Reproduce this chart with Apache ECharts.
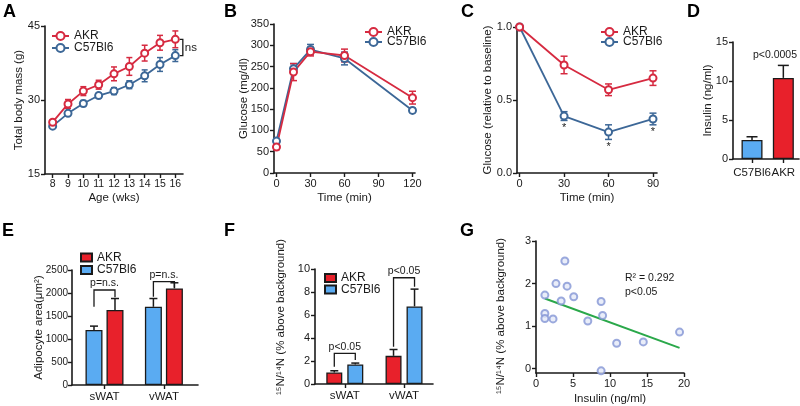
<!DOCTYPE html>
<html><head><meta charset="utf-8">
<script src="https://cdn.jsdelivr.net/npm/echarts@6/dist/echarts.min.js"></script>
<style>html,body{margin:0;padding:0;background:#fff}#c{width:800px;height:406px}</style>
</head><body><div id="c"></div>
<script>
// ---------- DATA ----------
// Panel A: body mass over age
const ageWeeks = ['8','9','10','11','12','13','14','15','16'];
const massAKR = [25.5, 29.2, 31.8, 33.1, 35.3, 36.8, 39.5, 41.6, 42.3];
const massAKRErr = [0.5, 0.9, 0.9, 0.9, 1.4, 1.8, 1.6, 1.5, 1.7];
const massC57 = [24.7, 27.3, 29.3, 30.9, 31.8, 33.1, 34.9, 37.2, 39.0];
const massC57Err = [0.4, 0.4, 0.6, 0.5, 0.7, 0.8, 1.2, 1.4, 1.2];
// Panel B: glucose tolerance
const gttTime = [0, 15, 30, 60, 120];
const gttAKR = [61, 237, 285, 276, 177];
const gttAKRErr = [6, 20, 10, 15, 15];
const gttC57 = [75, 245, 290, 269, 147];
const gttC57Err = [5, 12, 12, 15, 5];
const gttTicks = [0, 30, 60, 90, 120];
// Panel C: insulin tolerance
const ittTime = [0, 30, 60, 90];
const ittAKR = [1.0, 0.74, 0.57, 0.65];
const ittAKRErr = [0, 0.06, 0.04, 0.05];
const ittC57 = [1.0, 0.39, 0.28, 0.37];
const ittC57Err = [0, 0.03, 0.05, 0.04];
const ittSignificant = [false, true, true, true];
const ittTicks = [0, 30, 60, 90];
// Panel D: insulin
const insulinCats = ['C57Bl6', 'AKR'];
const insulinVals = [2.45, 10.4];
const insulinErr = [0.4, 1.6];
const insulinP = 'p<0.0005';
// Panel E: adipocyte area
const depots = ['sWAT', 'vWAT'];
const areaC57 = [1195, 1700];
const areaC57Err = [85, 180];
const areaAKR = [1630, 2100];
const areaAKRErr = [250, 122];
const areaBracketLevel = [2065, 2246];
const areaBracketLeftEnd = [1700, 1920];
const areaBracketRightEnd = [1910, 2120];
const areaBracketText = ['p=n.s.', 'p=n.s.'];
// Panel F: 15N/14N ratio
const ratioAKR = [1.0, 2.45];
const ratioAKRErr = [0.15, 0.55];
const ratioC57 = [1.7, 6.75];
const ratioC57Err = [0.12, 1.5];
const ratioBracketLevel = [2.67, 9.24];
const ratioBracketLeftEnd = [1.5, 3.24];
const ratioBracketRightEnd = [2.09, 8.46];
const ratioBracketText = ['p<0.05', 'p<0.05'];
// Panel G: correlation
const gInsulin = [1.2, 1.2, 1.2, 2.3, 2.7, 3.4, 3.9, 4.2, 5.1, 7.0, 8.8, 9.0, 8.8, 10.9, 14.5, 19.4];
const gRatio = [1.73, 1.30, 1.18, 1.17, 2.00, 1.59, 2.53, 1.94, 1.69, 1.12, 1.58, 1.25, -0.05, 0.60, 0.63, 0.86];
const trendInsulin = [1.2, 19.4];
const trendRatio = [1.65, 0.49];
const gStats = ['R\u00B2 = 0.292', 'p<0.05'];

// ---------- STYLE ----------
const FONT = "'Liberation Sans', Arial, Helvetica, 'DejaVu Sans', sans-serif";
const INK = '#1a1a1a';
const RED = '#d62a40';
const BLUE = '#3c6797';
const BAR_RED = '#e8212b';
const BAR_BLUE = '#5aabf2';
const TICK_FS = 11, TITLE_FS = 11.5;

function ax(o) {
  const base = {
    axisLine: {show: true, onZero: false, lineStyle: {color: INK, width: 1.6}},
    axisTick: {show: true, length: 4, lineStyle: {color: INK, width: 1.4}},
    axisLabel: {color: INK, fontSize: TICK_FS, margin: 5, fontFamily: FONT, formatter: v => String(v)},
    splitLine: {show: false},
    nameLocation: 'middle',
    nameMoveOverlap: false,
    nameTextStyle: {color: INK, fontSize: TITLE_FS, fontFamily: FONT}
  };
  for (const k in o) {
    if (o[k] && typeof o[k] === 'object' && !Array.isArray(o[k]) && base[k] && typeof base[k] === 'object')
      base[k] = Object.assign({}, base[k], o[k]);
    else base[k] = o[k];
  }
  return base;
}

function zip3(xs, ys, es) { return ys.map((y, i) => [xs[i], y, es[i]]); }

function errSeries(gi, points, color, capHalf, upOnly, dx) {
  return {
    type: 'custom', xAxisIndex: gi, yAxisIndex: gi, silent: true, z: 2,
    data: points,
    renderItem: function (params, api) {
      const x = api.value(0), y = api.value(1), e = api.value(2);
      if (!e) return null;
      const top = api.coord([x, y + e]);
      const bot = api.coord([x, upOnly ? y : y - e]);
      const cx = top[0] + (dx || 0);
      const st = {stroke: color, lineWidth: 1.5};
      const ch = [
        {type: 'line', shape: {x1: cx, y1: top[1], x2: cx, y2: bot[1]}, style: st},
        {type: 'line', shape: {x1: cx - capHalf, y1: top[1], x2: cx + capHalf, y2: top[1]}, style: st}
      ];
      if (!upOnly) ch.push({type: 'line', shape: {x1: cx - capHalf, y1: bot[1], x2: cx + capHalf, y2: bot[1]}, style: st});
      return {type: 'group', children: ch};
    }
  };
}

function lineSeries(gi, name, data, color) {
  return {
    type: 'line', name: name, xAxisIndex: gi, yAxisIndex: gi, data: data,
    symbol: 'emptyCircle', symbolSize: 7, z: 3,
    lineStyle: {color: color, width: 1.8},
    itemStyle: {color: color, borderWidth: 1.8},
    emphasis: {disabled: true}
  };
}

function bracketSeries(gi, data, offL, offR, labels) {
  return {
    type: 'custom', xAxisIndex: gi, yAxisIndex: gi, silent: true, z: 4,
    data: data,
    renderItem: function (params, api) {
      const i = params.dataIndex;
      const cx = api.value(0);
      const pTop = api.coord([cx, api.value(1)]);
      const yL = api.coord([cx, api.value(2)])[1];
      const yR = api.coord([cx, api.value(3)])[1];
      const xL = pTop[0] + offL, xR = pTop[0] + offR;
      return {type: 'group', children: [
        {type: 'polyline', shape: {points: [[xL, yL], [xL, pTop[1]], [xR, pTop[1]], [xR, yR]]},
         style: {stroke: INK, lineWidth: 1.3, fill: null}},
        {type: 'text', x: (xL + xR) / 2, y: pTop[1] - 1,
         style: {text: labels[i], align: 'center', verticalAlign: 'bottom', font: '10.5px ' + FONT, fill: INK}}
      ]};
    }
  };
}

const legendBase = {
  orient: 'vertical', padding: 0, selectedMode: false,
  formatter: n => n.split('|')[0],
  textStyle: {fontSize: 12, fontFamily: FONT, color: INK}
};
function legend(o) { return Object.assign({}, legendBase, o); }

// grids (A..G)
const grids = [
  {left: 45, top: 26, width: 138, height: 148},
  {left: 274, top: 24, width: 141, height: 149},
  {left: 517, top: 27, width: 140, height: 146},
  {left: 733, top: 42, width: 66, height: 117},
  {left: 72, top: 270, width: 126, height: 115},
  {left: 315, top: 269, width: 118, height: 115},
  {left: 536, top: 241, width: 148, height: 132}
].map(g => Object.assign({outerBoundsMode: 'none', containLabel: false}, g));

const catFmt = cats => (v => cats[Math.round(v)]);

const xAxes = [
  ax({gridIndex: 0, type: 'category', data: ageWeeks, boundaryGap: true,
      axisTick: {alignWithLabel: true, interval: 0}, axisLabel: {formatter: null, interval: 0, fontSize: 10.5},
      name: 'Age (wks)', nameGap: 18}),
  ax({gridIndex: 1, type: 'value', min: -2.2, max: 122.2,
      axisLabel: {customValues: gttTicks}, axisTick: {customValues: gttTicks},
      name: 'Time (min)', nameGap: 19}),
  ax({gridIndex: 2, type: 'value', min: -1.75, max: 92.7,
      axisLabel: {customValues: ittTicks}, axisTick: {customValues: ittTicks},
      name: 'Time (min)', nameGap: 19}),
  ax({gridIndex: 3, type: 'value', min: -0.607, max: 1.5,
      axisLabel: {customValues: [0, 1], formatter: catFmt(insulinCats), fontSize: 11.5, margin: 8},
      axisTick: {customValues: [0, 1]}}),
  ax({gridIndex: 4, type: 'value', min: -0.547, max: 1.574,
      axisLabel: {customValues: [0, 1], formatter: catFmt(depots), fontSize: 11.5, margin: 6},
      axisTick: {customValues: [0, 1]}}),
  ax({gridIndex: 5, type: 'value', min: -0.503, max: 1.489,
      axisLabel: {customValues: [0, 1], formatter: catFmt(depots), fontSize: 11.5, margin: 6},
      axisTick: {customValues: [0, 1]}}),
  ax({gridIndex: 6, type: 'value', min: 0, max: 20, interval: 5,
      name: 'Insulin (ng/ml)', nameGap: 20})
];
const gYTicks = [0, 1, 2, 3];
const yAxes = [
  ax({gridIndex: 0, type: 'value', min: 15, max: 45, interval: 15, name: 'Total body mass (g)', nameGap: 20}),
  ax({gridIndex: 1, type: 'value', min: 0, max: 350, interval: 50, name: 'Glucose (mg/dl)', nameGap: 24}),
  ax({gridIndex: 2, type: 'value', min: 0, max: 1, interval: 0.5, name: 'Glucose (relative to baseline)', nameGap: 23,
      axisLabel: {formatter: v => v.toFixed(1)}}),
  ax({gridIndex: 3, type: 'value', min: 0, max: 15, interval: 5, name: 'Insulin (ng/ml)', nameGap: 19}),
  ax({gridIndex: 4, type: 'value', min: 0, max: 2500, interval: 500, name: 'Adipocyte area(\u03BCm\u00B2)', nameGap: 27,
      axisLabel: {fontSize: 10, margin: 4}}),
  ax({gridIndex: 5, type: 'value', min: 0, max: 10, interval: 2}),
  ax({gridIndex: 6, type: 'value', min: -0.1, max: 3,
      axisLabel: {customValues: gYTicks}, axisTick: {customValues: gYTicks}})
];

const idxA = ageWeeks.map((_, i) => i);
const barOff = (w, gapPx) => (w + gapPx) / 2;
const E_W = 17, E_GAP = 4, F_W = 16, F_GAP = 5;

const series = [
  // A
  errSeries(0, zip3(idxA, massC57, massC57Err), BLUE, 3, false),
  errSeries(0, zip3(idxA, massAKR, massAKRErr), RED, 3, false),
  lineSeries(0, 'C57Bl6|A', massC57, BLUE),
  lineSeries(0, 'AKR|A', massAKR, RED),
  {
    type: 'custom', xAxisIndex: 0, yAxisIndex: 0, silent: true, z: 4,
    data: [[idxA[idxA.length - 1], massAKR[massAKR.length - 1], massC57[massC57.length - 1]]],
    renderItem: function (params, api) {
      const p1 = api.coord([api.value(0), api.value(1)]);
      const p2 = api.coord([api.value(0), api.value(2)]);
      const x = p1[0] + 7.5;
      return {type: 'group', children: [
        {type: 'polyline', shape: {points: [[x - 3, p1[1]], [x, p1[1]], [x, p2[1]], [x - 3, p2[1]]]},
         style: {stroke: INK, lineWidth: 1.3, fill: null}},
        {type: 'text', x: x + 2, y: (p1[1] + p2[1]) / 2,
         style: {text: 'ns', align: 'left', verticalAlign: 'middle', font: '11.5px ' + FONT, fill: INK}}
      ]};
    }
  },
  // B
  errSeries(1, zip3(gttTime, gttC57, gttC57Err), BLUE, 3.5, false),
  errSeries(1, zip3(gttTime, gttAKR, gttAKRErr), RED, 3.5, false),
  lineSeries(1, 'C57Bl6|B', gttTime.map((t, i) => [t, gttC57[i]]), BLUE),
  lineSeries(1, 'AKR|B', gttTime.map((t, i) => [t, gttAKR[i]]), RED),
  // C
  errSeries(2, zip3(ittTime, ittC57, ittC57Err), BLUE, 3.5, false),
  errSeries(2, zip3(ittTime, ittAKR, ittAKRErr), RED, 3.5, false),
  lineSeries(2, 'C57Bl6|C', ittTime.map((t, i) => [t, ittC57[i]]), BLUE),
  lineSeries(2, 'AKR|C', ittTime.map((t, i) => [t, ittAKR[i]]), RED),
  {
    type: 'custom', xAxisIndex: 2, yAxisIndex: 2, silent: true, z: 4,
    data: zip3(ittTime, ittC57, ittC57Err).filter((_, i) => ittSignificant[i]),
    renderItem: function (params, api) {
      const p = api.coord([api.value(0), api.value(1) - api.value(2)]);
      return {type: 'text', x: p[0], y: p[1] + 2,
        style: {text: '*', align: 'center', verticalAlign: 'top', font: '11px ' + FONT, fill: INK}};
    }
  },
  // D
  {
    type: 'bar', name: 'Insulin', xAxisIndex: 3, yAxisIndex: 3, barWidth: 21,
    data: insulinCats.map((c, i) => ({value: [i, insulinVals[i]],
      itemStyle: {color: c === 'AKR' ? BAR_RED : BAR_BLUE}})),
    itemStyle: {borderColor: INK, borderWidth: 1.3}, emphasis: {disabled: true}
  },
  errSeries(3, zip3([0, 1], insulinVals, insulinErr), INK, 5.5, true),
  // E
  {
    type: 'bar', name: 'C57Bl6|E', xAxisIndex: 4, yAxisIndex: 4, barWidth: E_W, barGap: (E_GAP / E_W * 100) + '%',
    data: areaC57.map((v, i) => [i, v]), itemStyle: {color: BAR_BLUE, borderColor: INK, borderWidth: 1.3},
    emphasis: {disabled: true}
  },
  {
    type: 'bar', name: 'AKR|E', xAxisIndex: 4, yAxisIndex: 4, barWidth: E_W, barGap: (E_GAP / E_W * 100) + '%',
    data: areaAKR.map((v, i) => [i, v]), itemStyle: {color: BAR_RED, borderColor: INK, borderWidth: 1.3},
    emphasis: {disabled: true}
  },
  errSeries(4, zip3([0, 1], areaC57, areaC57Err), INK, 4, true, -barOff(E_W, E_GAP)),
  errSeries(4, zip3([0, 1], areaAKR, areaAKRErr), INK, 4, true, barOff(E_W, E_GAP)),
  bracketSeries(4, depots.map((_, i) => [i, areaBracketLevel[i], areaBracketLeftEnd[i], areaBracketRightEnd[i]]),
    -barOff(E_W, E_GAP), barOff(E_W, E_GAP), areaBracketText),
  // F
  {
    type: 'bar', name: 'AKR|F', xAxisIndex: 5, yAxisIndex: 5, barWidth: F_W, barGap: (F_GAP / F_W * 100) + '%',
    data: ratioAKR.map((v, i) => [i, v]), itemStyle: {color: BAR_RED, borderColor: INK, borderWidth: 1.3},
    emphasis: {disabled: true}
  },
  {
    type: 'bar', name: 'C57Bl6|F', xAxisIndex: 5, yAxisIndex: 5, barWidth: F_W, barGap: (F_GAP / F_W * 100) + '%',
    data: ratioC57.map((v, i) => [i, v]), itemStyle: {color: BAR_BLUE, borderColor: INK, borderWidth: 1.3},
    emphasis: {disabled: true}
  },
  errSeries(5, zip3([0, 1], ratioAKR, ratioAKRErr), INK, 4, true, -barOff(F_W, F_GAP)),
  errSeries(5, zip3([0, 1], ratioC57, ratioC57Err), INK, 4, true, barOff(F_W, F_GAP)),
  bracketSeries(5, depots.map((_, i) => [i, ratioBracketLevel[i], ratioBracketLeftEnd[i], ratioBracketRightEnd[i]]),
    -barOff(F_W, F_GAP), barOff(F_W, F_GAP), ratioBracketText),
  // G
  {
    type: 'line', name: 'trend', xAxisIndex: 6, yAxisIndex: 6, showSymbol: false, z: 2,
    data: trendInsulin.map((x, i) => [x, trendRatio[i]]),
    lineStyle: {color: '#2aa84a', width: 2}, emphasis: {disabled: true}
  },
  {
    type: 'scatter', name: 'points', xAxisIndex: 6, yAxisIndex: 6, symbol: 'circle', symbolSize: 7, z: 3,
    data: gInsulin.map((x, i) => [x, gRatio[i]]),
    itemStyle: {color: '#e4e8f7', borderColor: '#8395d4', borderWidth: 2}, emphasis: {disabled: true}
  }
];

const lineLegendStyle = {itemWidth: 17, itemHeight: 10};
const legends = [
  legend(Object.assign({left: 51, top: 30, itemGap: 0, data: ['AKR|A', 'C57Bl6|A']}, lineLegendStyle)),
  legend(Object.assign({left: 364, top: 26, itemGap: -2, data: ['AKR|B', 'C57Bl6|B']}, lineLegendStyle)),
  legend(Object.assign({left: 600, top: 26, itemGap: -2, data: ['AKR|C', 'C57Bl6|C']}, lineLegendStyle)),
  legend({left: 80, top: 251.5, itemGap: 0.5, icon: 'rect', itemWidth: 11, itemHeight: 8, data: ['AKR|E', 'C57Bl6|E']}),
  legend({left: 324, top: 272, itemGap: -0.5, icon: 'rect', itemWidth: 11, itemHeight: 8, data: ['AKR|F', 'C57Bl6|F']})
];

function letter(t, x, y) {
  return {type: 'text', x: x, y: y, silent: true,
    style: {text: t, font: 'bold 18px ' + FONT, fill: '#000', align: 'left', verticalAlign: 'middle'}};
}
function vtext(t, x, y) {
  return {type: 'text', x: x, y: y, rotation: Math.PI / 2, silent: true,
    style: {text: t, font: TITLE_FS + 'px ' + FONT, fill: INK, align: 'center', verticalAlign: 'middle'}};
}
function note(t, x, y, align) {
  return {type: 'text', x: x, y: y, silent: true,
    style: {text: t, font: '10.5px ' + FONT, fill: INK, align: align || 'left', verticalAlign: 'middle'}};
}

const graphics = [
  letter('A', 3, 12), letter('B', 224, 12), letter('C', 461, 12), letter('D', 687, 12),
  letter('E', 2, 231), letter('F', 224, 231), letter('G', 460, 231),
  vtext('\u00B9\u2075N/\u00B9\u2074N (% above background)', 281, 317),
  vtext('\u00B9\u2075N/\u00B9\u2074N (% above background)', 501, 316),
  note(insulinP, 775, 55, 'center'),
  note(gStats[0], 625, 278), note(gStats[1], 625, 292)
];

const chart = echarts.init(document.getElementById('c'), null, {renderer: 'canvas'});
chart.setOption({
  animation: false,
  backgroundColor: '#fff',
  textStyle: {fontFamily: FONT},
  grid: grids,
  xAxis: xAxes,
  yAxis: yAxes,
  legend: legends,
  series: series,
  graphic: graphics
});
</script></body></html>
